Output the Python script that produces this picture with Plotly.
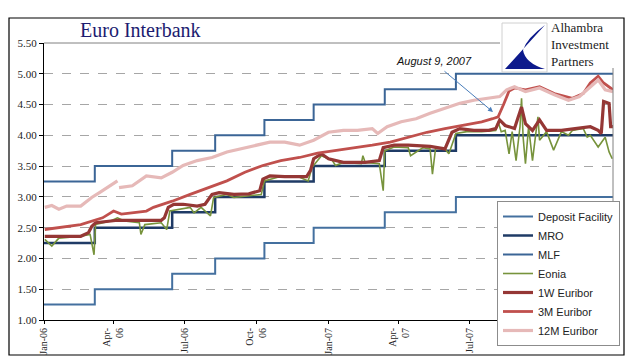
import plotly.graph_objects as go

# ---------------- data ----------------
policy_dates = ["2006-01-02", "2006-03-08", "2006-06-15", "2006-08-09", "2006-10-11",
                "2006-12-13", "2007-03-14", "2007-06-13", "2007-12-31"]
deposit_facility = [1.25, 1.50, 1.75, 2.00, 2.25, 2.50, 2.75, 3.00, 3.00]
mro = [2.25, 2.50, 2.75, 3.00, 3.25, 3.50, 3.75, 4.00, 4.00]
mlf = [3.25, 3.50, 3.75, 4.00, 4.25, 4.50, 4.75, 5.00, 5.00]

eonia_dates = ["2006-01-03", "2006-01-12", "2006-01-21", "2006-02-18", "2006-03-02", "2006-03-07",
               "2006-03-09", "2006-03-28", "2006-04-06", "2006-04-15", "2006-05-04", "2006-05-06",
               "2006-05-11", "2006-06-01", "2006-06-08", "2006-06-12", "2006-07-08", "2006-07-13",
               "2006-07-22", "2006-08-03", "2006-08-07", "2006-08-24", "2006-09-02", "2006-09-21",
               "2006-10-07", "2006-10-11", "2006-10-28", "2006-11-25", "2006-12-06", "2006-12-11",
               "2006-12-23", "2007-01-06", "2007-01-10", "2007-01-20", "2007-02-12", "2007-02-14",
               "2007-02-17", "2007-03-07", "2007-03-12", "2007-03-14", "2007-03-26", "2007-04-13",
               "2007-04-16", "2007-05-02", "2007-05-11", "2007-05-14", "2007-05-18", "2007-05-30",
               "2007-06-04", "2007-06-13", "2007-06-27", "2007-07-16", "2007-08-03", "2007-08-06",
               "2007-08-10", "2007-08-15", "2007-08-20", "2007-08-24", "2007-08-29", "2007-09-03",
               "2007-09-05", "2007-09-07", "2007-09-10", "2007-09-14", "2007-09-19", "2007-09-24",
               "2007-09-26", "2007-09-28", "2007-10-07", "2007-10-16", "2007-10-26", "2007-11-04",
               "2007-11-09", "2007-11-23", "2007-11-28", "2007-12-02", "2007-12-12", "2007-12-21",
               "2007-12-26", "2007-12-30"]
eonia = [2.31, 2.20, 2.33, 2.36, 2.39, 2.06,
         2.55, 2.61, 2.66, 2.61, 2.58, 2.39,
         2.55, 2.58, 2.47, 2.77, 2.83, 2.74,
         2.83, 2.69, 2.99, 3.04, 2.99, 3.02,
         3.04, 3.26, 3.32, 3.32, 3.26, 3.48,
         3.67, 3.59, 3.51, 3.56, 3.54, 3.67,
         3.56, 3.54, 3.10, 3.75, 3.81, 3.80,
         3.67, 3.80, 3.78, 3.37, 3.79, 3.78,
         3.70, 4.03, 4.06, 4.06, 4.08, 4.22,
         4.06, 4.08, 3.70, 4.06, 3.59, 4.14,
         4.60, 3.97, 3.54, 4.14, 3.59, 4.11,
         4.30, 3.92, 4.06, 3.76, 4.06, 4.00,
         4.08, 4.11, 3.97, 4.00, 3.81, 3.97,
         3.73, 3.62]

w1_dates = ["2006-01-03", "2006-02-18", "2006-02-28", "2006-03-04", "2006-03-09", "2006-04-06",
            "2006-06-01", "2006-06-05", "2006-06-10", "2006-06-17", "2006-06-29", "2006-07-17",
            "2006-07-27", "2006-08-05", "2006-08-14", "2006-09-02", "2006-09-21", "2006-10-05",
            "2006-10-09", "2006-10-18", "2006-11-06", "2006-12-04", "2006-12-09", "2006-12-13",
            "2006-12-23", "2007-01-01", "2007-01-20", "2007-02-17", "2007-03-07", "2007-03-12",
            "2007-03-26", "2007-04-13", "2007-05-11", "2007-05-30", "2007-06-08", "2007-06-18",
            "2007-07-06", "2007-07-25", "2007-08-03", "2007-08-08", "2007-08-15", "2007-08-27",
            "2007-08-31", "2007-09-05", "2007-09-10", "2007-09-19", "2007-09-28", "2007-10-07",
            "2007-10-26", "2007-11-14", "2007-12-02", "2007-12-12", "2007-12-16", "2007-12-19",
            "2007-12-26", "2007-12-28", "2007-12-31"]
euribor_1w = [2.36, 2.36, 2.42, 2.52, 2.58, 2.62,
              2.62, 2.66, 2.83, 2.88, 2.88, 2.85,
              2.88, 3.04, 3.07, 3.04, 3.05, 3.10,
              3.29, 3.34, 3.33, 3.33, 3.43, 3.62,
              3.70, 3.62, 3.56, 3.56, 3.59, 3.80,
              3.84, 3.84, 3.82, 3.78, 4.05, 4.11,
              4.08, 4.08, 4.11, 4.25, 4.16, 4.11,
              4.27, 4.46, 4.19, 4.08, 4.25, 4.08,
              4.08, 4.11, 4.14, 4.08, 4.03, 4.55,
              4.52, 4.14, 4.14]

m3_dates = ["2006-01-03", "2006-02-18", "2006-03-18", "2006-04-01", "2006-04-11", "2006-05-13",
            "2006-05-22", "2006-06-15", "2006-07-08", "2006-07-31", "2006-08-24", "2006-09-16",
            "2006-10-09", "2006-11-01", "2006-11-25", "2006-12-18", "2007-01-10", "2007-02-03",
            "2007-02-26", "2007-03-21", "2007-04-13", "2007-05-07", "2007-05-30", "2007-06-22",
            "2007-07-16", "2007-07-30", "2007-08-06", "2007-08-13", "2007-08-20", "2007-08-27",
            "2007-09-10", "2007-09-28", "2007-10-17", "2007-11-09", "2007-11-23", "2007-12-02",
            "2007-12-12", "2007-12-19", "2007-12-31"]
euribor_3m = [2.47, 2.55, 2.66, 2.77, 2.72, 2.77,
              2.83, 2.93, 3.04, 3.15, 3.26, 3.40,
              3.51, 3.59, 3.64, 3.71, 3.75, 3.80,
              3.84, 3.89, 3.97, 4.05, 4.11, 4.16,
              4.22, 4.27, 4.30, 4.50, 4.72, 4.77,
              4.74, 4.79, 4.68, 4.60, 4.68, 4.85,
              4.96, 4.85, 4.74]

m12_dates = ["2006-01-03", "2006-01-12", "2006-01-21", "2006-01-31", "2006-02-18", "2006-03-04",
             "2006-03-14", "2006-03-28", "2006-04-06", "2006-04-07", "2006-04-08", "2006-04-25",
             "2006-05-13", "2006-06-01", "2006-06-15", "2006-06-29", "2006-07-17", "2006-08-05",
             "2006-08-24", "2006-09-11", "2006-09-30", "2006-10-18", "2006-11-06", "2006-11-25",
             "2006-12-13", "2007-01-01", "2007-01-20", "2007-02-07", "2007-02-26", "2007-03-05",
             "2007-03-17", "2007-04-04", "2007-04-23", "2007-05-11", "2007-05-30", "2007-06-18",
             "2007-07-06", "2007-07-25", "2007-08-08", "2007-08-17", "2007-08-27", "2007-09-10",
             "2007-09-28", "2007-10-17", "2007-11-04", "2007-11-18", "2007-12-02", "2007-12-12",
             "2007-12-21", "2007-12-31"]
euribor_12m = [2.83, 2.86, 2.80, 2.85, 2.85, 2.99,
               3.07, 3.18, 3.26, None, 3.15, 3.18,
               3.34, 3.31, 3.40, 3.51, 3.59, 3.64,
               3.73, 3.78, 3.84, 3.89, 3.89, 3.84,
               3.92, 4.05, 4.08, 4.08, 4.11, 4.03,
               4.14, 4.22, 4.27, 4.36, 4.44, 4.52,
               4.57, 4.60, 4.63, 4.74, 4.79, 4.71,
               4.77, 4.66, 4.57, 4.63, 4.79, 4.90,
               4.74, 4.71]

tick_dates = ["2006-01-02", "2006-04-01", "2006-07-01", "2006-10-01",
              "2007-01-01", "2007-04-01", "2007-07-01", "2007-10-01"]
tick_labels = ["Jan-06", "Apr-<br>06", "Jul-06", "Oct-<br>06",
               "Jan-07", "Apr-<br>07", "Jul-07", "Oct-<br>07"]

# ---------------- figure ----------------
PAGE_W, PAGE_H = 634, 361
OFF = 8                      # default page body margin
W, H = PAGE_W - OFF, PAGE_H - OFF
L, R, T, B = 44, 613, 43, 320   # plot area in page pixels


def px(X):
    return (X - L) / (R - L)


def py(Y):
    return (B - Y) / (B - T)


fig = go.Figure()
series = [
    ("Deposit Facility", policy_dates, deposit_facility, "#44709f", 2, "hv"),
    ("MRO", policy_dates, mro, "#1f3b66", 2.5, "hv"),
    ("MLF", policy_dates, mlf, "#3b6596", 2, "hv"),
    ("Eonia", eonia_dates, eonia, "#77933c", 1.6, "linear"),
    ("1W Euribor", w1_dates, euribor_1w, "#953735", 3.2, "linear"),
    ("3M Euribor", m3_dates, euribor_3m, "#c0504d", 2.8, "linear"),
    ("12M Euribor", m12_dates, euribor_12m, "#e6b9b8", 3.2, "linear"),
]
for name, xs, ys, col, w, shape in series:
    fig.add_trace(go.Scatter(x=xs, y=ys, name=name, mode="lines",
                             line=dict(color=col, width=w, shape=shape),
                             connectgaps=False))

serif = "Liberation Serif"
fig.update_layout(
    width=W, height=H,
    margin=dict(l=L - OFF, r=W - (R - OFF), t=T - OFF, b=H - (B - OFF), pad=0,
                autoexpand=False),
    paper_bgcolor="white", plot_bgcolor="white",
    showlegend=True,
    legend=dict(x=px(497), y=py(201), xanchor="left", yanchor="top",
                bgcolor="white", bordercolor="#8c8c8c", borderwidth=1,
                font=dict(family="Liberation Sans", size=11, color="#222"),
                tracegroupgap=0, itemwidth=30),
    xaxis=dict(type="date", range=["2006-01-02", "2007-12-31"], automargin=False,
               tickmode="array", tickvals=tick_dates, ticktext=tick_labels,
               tickangle=-90, showgrid=False, zeroline=False,
               showline=True, linecolor="black", linewidth=1,
               ticks="outside", ticklen=3, tickcolor="black",
               tickfont=dict(family=serif, size=10, color="#222")),
    yaxis=dict(range=[1, 5.5], dtick=0.5, tick0=1, tickformat=".2f", automargin=False,
               showgrid=True, gridcolor="#a6a6a6", gridwidth=0.8, griddash="dash",
               zeroline=False, showline=True, linecolor="black", linewidth=1,
               ticks="outside", ticklen=4, tickcolor="black",
               tickfont=dict(family=serif, size=11, color="#222")),
)

shapes = [
    # outer chart border
    dict(type="rect", xref="paper", yref="paper", x0=px(9), x1=px(624), y0=py(355), y1=py(18),
         line=dict(color="black", width=1.2), layer="below"),
    # plot area top and right borders
    dict(type="line", xref="paper", yref="paper", x0=0, x1=1, y0=1, y1=1,
         line=dict(color="#808080", width=1), layer="above"),
    dict(type="line", xref="paper", yref="paper", x0=1, x1=1, y0=0, y1=1,
         line=dict(color="#808080", width=1), layer="above"),
    # logo background
    dict(type="rect", xref="paper", yref="paper", x0=px(500), x1=px(622), y0=py(68), y1=py(20),
         fillcolor="white", line=dict(width=0), layer="above"),
    dict(type="rect", xref="paper", yref="paper", x0=px(502), x1=px(547), y0=py(72), y1=py(23),
         fillcolor="white", line=dict(color="#d0d0d0", width=1), layer="above"),
]
path = "M {} {} L {} {} L {} {} Q {} {} {} {} Q {} {} {} {} Z".format(
    px(545), py(25), px(505), py(69), px(545), py(69),
    px(525), py(63), px(523), py(50), px(527), py(38), px(545), py(25))
shapes.append(dict(type="path", xref="paper", yref="paper", path=path,
                   fillcolor="#0d1a8c", line=dict(width=0), layer="above"))
fig.update_layout(shapes=shapes)

anns = [
    dict(text="Euro Interbank", x=px(78), y=py(30), xanchor="left", yanchor="middle",
         font=dict(family=serif, size=20, color="#1c1c70")),
    dict(text="<i>August 9, 2007</i>", x=px(394), y=py(61), xanchor="left", yanchor="middle",
         font=dict(family="Liberation Sans", size=11, color="#111")),
    dict(text="", x=px(493), y=py(112), ax=443 - 493, ay=70 - 112, showarrow=True,
         arrowhead=2, arrowsize=1, arrowwidth=1, arrowcolor="#4a7ebb", standoff=0),
    dict(text="Alhambra<br>Investment<br>Partners", x=px(549), y=py(44), xanchor="left",
         yanchor="middle", align="left",
         font=dict(family=serif, size=13, color="#222")),
]
for a in anns:
    a.setdefault("xref", "paper")
    a.setdefault("yref", "paper")
    a.setdefault("showarrow", False)
fig.update_layout(annotations=anns)

fig.write_html("out.html")
